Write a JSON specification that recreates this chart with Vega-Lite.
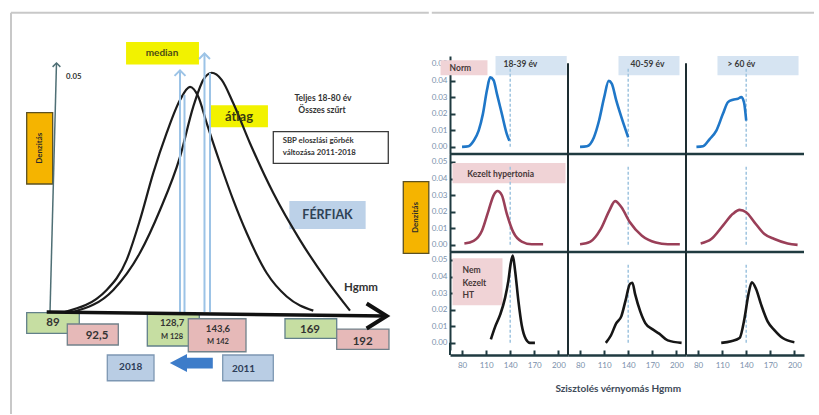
{
"$schema": "https://vega.github.io/schema/vega-lite/v6.json",
"padding": 0,
"background": "#ffffff",
"spacing": 0,
"resolve": {"scale": {"color": "independent", "stroke": "independent", "fill": "independent", "size": "independent"}},
"config": {"view": {"stroke": null}, "font": "Lato", "text": {"font": "Lato", "fontWeight": "bold"}},
"datasets": {
"boxes": [
{"cat":"green","x1":74.74,"x2":93.82,"y1":-0.00015,"y2":-0.00453},
{"cat":"green","x1":118.49,"x2":137.35,"y1":-0.00043,"y2":-0.00723},
{"cat":"green","x1":168.43,"x2":187.19,"y1":-0.00143,"y2":-0.0056},
{"cat":"pink","x1":89.47,"x2":107.97,"y1":-0.00255,"y2":-0.00702},
{"cat":"pink","x1":133.36,"x2":154.29,"y1":-0.00143,"y2":-0.00845},
{"cat":"pink","x1":187.19,"x2":206.15,"y1":-0.00362,"y2":-0.00794},
{"cat":"blue","x1":103.98,"x2":120.92,"y1":-0.00915,"y2":-0.01462},
{"cat":"blue","x1":145.84,"x2":164.19,"y1":-0.00915,"y2":-0.01462},
{"cat":"yellow","x1":111.02,"x2":136.99,"y1":0.0573,"y2":0.05277},
{"cat":"yellow","x1":141.48,"x2":162.01,"y1":0.04383,"y2":0.03943},
{"cat":"white","x1":164.19,"x2":205.9,"y1":0.03836,"y2":0.03164},
{"cat":"lblue","x1":170.25,"x2":197.45,"y1":0.02347,"y2":0.01781},
{"cat":"orange","x1":74.74,"x2":84.17,"y1":0.0424,"y2":0.02723},
{"cat":"orange","x1":211.34,"x2":220.6,"y1":0.02772,"y2":0.01249}
],
"bell": [
{"year":"2018","sbp":88.5,"dens":0},{"year":"2018","sbp":103.76,"dens":0.0047},{"year":"2018","sbp":111.0,"dens":0.0111},{"year":"2018","sbp":115.84,"dens":0.0196},{"year":"2018","sbp":120.67,"dens":0.0296},{"year":"2018","sbp":125.52,"dens":0.0381},{"year":"2018","sbp":130.35,"dens":0.0451},{"year":"2018","sbp":133.98,"dens":0.0479},{"year":"2018","sbp":136.99,"dens":0.0458},{"year":"2018","sbp":140.03,"dens":0.0402},{"year":"2018","sbp":144.86,"dens":0.0317},{"year":"2018","sbp":149.68,"dens":0.0238},{"year":"2018","sbp":154.54,"dens":0.0168},{"year":"2018","sbp":161.79,"dens":0.0083},{"year":"2018","sbp":169.05,"dens":0.0033},{"year":"2018","sbp":178.7,"dens":0.0003},
{"year":"2011","sbp":91.5,"dens":0},{"year":"2011","sbp":106.16,"dens":0.0047},{"year":"2011","sbp":115.84,"dens":0.0126},{"year":"2011","sbp":123.1,"dens":0.0217},{"year":"2011","sbp":130.35,"dens":0.033},{"year":"2011","sbp":135.17,"dens":0.0437},{"year":"2011","sbp":138.8,"dens":0.0494},{"year":"2011","sbp":141.85,"dens":0.0509},{"year":"2011","sbp":145.47,"dens":0.0494},{"year":"2011","sbp":149.68,"dens":0.0444},{"year":"2011","sbp":155.74,"dens":0.0359},{"year":"2011","sbp":164.19,"dens":0.0253},{"year":"2011","sbp":173.88,"dens":0.0153},{"year":"2011","sbp":183.56,"dens":0.0068},{"year":"2011","sbp":192.01,"dens":0.0003}
],
"segs": [
{"cat":"frame","x":69.05,"y":0.06368,"x2":69.05,"y2":-0.0217},
{"cat":"frame","x":69.05,"y":0.06368,"x2":220.6,"y2":0.06368},
{"cat":"yaxis","x":83.2,"y":0,"x2":85.55,"y2":0.05298},
{"cat":"blue","x":130.35,"y":0,"x2":130.35,"y2":0.0512},
{"cat":"blue","x":131.98,"y":0,"x2":131.98,"y2":0.0462},
{"cat":"blue","x":139.23,"y":0,"x2":139.23,"y2":0.0548},
{"cat":"blue","x":141.23,"y":0,"x2":141.23,"y2":0.0509},
{"cat":"xaxis","x":82.0,"y":0,"x2":205.07,"y2":-0.00085}
],
"heads": [
{"cat":"yaxis","x":85.55,"y":0.05298},
{"cat":"blue","x":130.35,"y":0.0514},
{"cat":"blue","x":139.23,"y":0.055},
{"cat":"xaxis","x":205.3,"y":-0.00085},
{"cat":"big","x":134.45,"y":-0.01085}
],
"texts": [
{"g":"c","t":"89","role":"big","x":84.28,"y":-0.00234},
{"g":"c","t":"92,5","role":"big","x":100.24,"y":-0.00511},
{"g":"c","t":"169","role":"big","x":177.5,"y":-0.00383},
{"g":"c","t":"192","role":"big","x":196.62,"y":-0.00628},
{"g":"c","t":"128,7","role":"mid","x":127.45,"y":-0.0024},
{"g":"c","t":"143,6","role":"mid","x":144.13,"y":-0.00362},
{"g":"c","t":"M 128","role":"small","x":127.45,"y":-0.00538},
{"g":"c","t":"M 142","role":"small","x":144.13,"y":-0.00632},
{"g":"c","t":"2018","role":"year","x":112.47,"y":-0.01177},
{"g":"c","t":"2011","role":"year","x":153.38,"y":-0.01213},
{"g":"c","t":"median","role":"median","x":123.82,"y":0.055},
{"g":"c","t":"átlag","role":"atlag","x":151.75,"y":0.04149},
{"g":"c","t":"Teljes 18-80 év","role":"note","x":182.22,"y":0.04553},
{"g":"c","t":"Összes szűrt","role":"note","x":181.85,"y":0.04298},
{"g":"c","t":"FÉRFIAK","role":"ferfi","x":183.85,"y":0.02064},
{"g":"c","t":"Hgmm","role":"hgmm","x":196.0,"y":0.00511},
{"g":"l","t":"SBP eloszlási görbék","x":167.6,"y":0.03638},
{"g":"l","t":"változása 2011-2018","x":167.6,"y":0.03383},
{"g":"l","t":"0.05","x":89.0,"y":0.05},
{"g":"r","t":"Denzitás","x":79.46,"y":0.03483},
{"g":"r","t":"Denzitás","x":215.97,"y":0.02011}
],
"right": [
{"kind":"cell","grp":"Norm","age":"18-39 év"},{"kind":"cell","grp":"Norm","age":"40-59 év"},{"kind":"cell","grp":"Norm","age":"> 60 év"},
{"kind":"cell","grp":"Kezelt hypertonia","age":"18-39 év"},{"kind":"cell","grp":"Kezelt hypertonia","age":"40-59 év"},{"kind":"cell","grp":"Kezelt hypertonia","age":"> 60 év"},
{"kind":"cell","grp":"Nem Kezelt HT","age":"18-39 év"},{"kind":"cell","grp":"Nem Kezelt HT","age":"40-59 év"},{"kind":"cell","grp":"Nem Kezelt HT","age":"> 60 év"},
{"kind":"colhead","grp":"Norm","age":"18-39 év","label":"18-39 év","x1":121.7,"x2":210.4,"tx":131.6},
{"kind":"colhead","grp":"Norm","age":"40-59 év","label":"40-59 év","x1":127.9,"x2":203.9,"tx":142.9},
{"kind":"colhead","grp":"Norm","age":"> 60 év","label":"> 60 év","x1":104.2,"x2":205.2,"tx":116.7},
{"kind":"rowlab","grp":"Norm","age":"18-39 év","label":"Norm","x1":53.2,"x2":111.7,"y1":0.0432,"y2":0.0523,"tx":64.5,"ty":0.0476},
{"kind":"rowlab","grp":"Kezelt hypertonia","age":"18-39 év","label":"Kezelt hypertonia","x1":68.1,"x2":208.9,"y1":0.0372,"y2":0.0493,"tx":86.5,"ty":0.0429},
{"kind":"rowlab","grp":"Nem Kezelt HT","age":"18-39 év","label":"Nem\nKezelt\nHT","x1":68.1,"x2":130.4,"y1":0.0227,"y2":0.0511,"tx":80.6,"ty":0.0438},
{"kind":"curve","grp":"Norm","age":"18-39 év","sbp":80,"dens":0},{"kind":"curve","grp":"Norm","age":"18-39 év","sbp":88,"dens":0.0004},{"kind":"curve","grp":"Norm","age":"18-39 év","sbp":94.5,"dens":0.0037},{"kind":"curve","grp":"Norm","age":"18-39 év","sbp":100.7,"dens":0.0098},{"kind":"curve","grp":"Norm","age":"18-39 év","sbp":106,"dens":0.0199},{"kind":"curve","grp":"Norm","age":"18-39 év","sbp":111,"dens":0.0341},{"kind":"curve","grp":"Norm","age":"18-39 év","sbp":115,"dens":0.0419},{"kind":"curve","grp":"Norm","age":"18-39 év","sbp":119.3,"dens":0.0402},{"kind":"curve","grp":"Norm","age":"18-39 év","sbp":123.4,"dens":0.0321},{"kind":"curve","grp":"Norm","age":"18-39 év","sbp":129.6,"dens":0.0199},{"kind":"curve","grp":"Norm","age":"18-39 év","sbp":135.8,"dens":0.0077},{"kind":"curve","grp":"Norm","age":"18-39 év","sbp":139,"dens":0.0037},
{"kind":"curve","grp":"Norm","age":"40-59 év","sbp":80,"dens":0},{"kind":"curve","grp":"Norm","age":"40-59 év","sbp":88.6,"dens":0.0004},{"kind":"curve","grp":"Norm","age":"40-59 év","sbp":97.2,"dens":0.0057},{"kind":"curve","grp":"Norm","age":"40-59 év","sbp":103.7,"dens":0.0159},{"kind":"curve","grp":"Norm","age":"40-59 év","sbp":110.1,"dens":0.03},{"kind":"curve","grp":"Norm","age":"40-59 év","sbp":115.7,"dens":0.0398},{"kind":"curve","grp":"Norm","age":"40-59 év","sbp":119.5,"dens":0.0382},{"kind":"curve","grp":"Norm","age":"40-59 év","sbp":125.1,"dens":0.028},{"kind":"curve","grp":"Norm","age":"40-59 év","sbp":131.5,"dens":0.0179},{"kind":"curve","grp":"Norm","age":"40-59 év","sbp":140,"dens":0.0057},
{"kind":"curve","grp":"Norm","age":"> 60 év","sbp":78,"dens":0},{"kind":"curve","grp":"Norm","age":"> 60 év","sbp":86.2,"dens":0.0004},{"kind":"curve","grp":"Norm","age":"> 60 év","sbp":94.5,"dens":0.0047},{"kind":"curve","grp":"Norm","age":"> 60 év","sbp":102.8,"dens":0.0098},{"kind":"curve","grp":"Norm","age":"> 60 év","sbp":111,"dens":0.0199},{"kind":"curve","grp":"Norm","age":"> 60 év","sbp":117.3,"dens":0.027},{"kind":"curve","grp":"Norm","age":"> 60 év","sbp":123.5,"dens":0.0284},{"kind":"curve","grp":"Norm","age":"> 60 év","sbp":129.7,"dens":0.029},{"kind":"curve","grp":"Norm","age":"> 60 év","sbp":133.8,"dens":0.03},{"kind":"curve","grp":"Norm","age":"> 60 év","sbp":137.2,"dens":0.027},{"kind":"curve","grp":"Norm","age":"> 60 év","sbp":140,"dens":0.0159},
{"kind":"curve","grp":"Kezelt hypertonia","age":"18-39 év","sbp":82.9,"dens":0.0008},{"kind":"curve","grp":"Kezelt hypertonia","age":"18-39 év","sbp":94.5,"dens":0.0024},{"kind":"curve","grp":"Kezelt hypertonia","age":"18-39 év","sbp":104.8,"dens":0.0085},{"kind":"curve","grp":"Kezelt hypertonia","age":"18-39 év","sbp":113,"dens":0.0207},{"kind":"curve","grp":"Kezelt hypertonia","age":"18-39 év","sbp":119.3,"dens":0.0299},{"kind":"curve","grp":"Kezelt hypertonia","age":"18-39 év","sbp":124.2,"dens":0.0325},{"kind":"curve","grp":"Kezelt hypertonia","age":"18-39 év","sbp":129.6,"dens":0.0299},{"kind":"curve","grp":"Kezelt hypertonia","age":"18-39 év","sbp":135.8,"dens":0.0187},{"kind":"curve","grp":"Kezelt hypertonia","age":"18-39 év","sbp":144,"dens":0.0075},{"kind":"curve","grp":"Kezelt hypertonia","age":"18-39 év","sbp":154.3,"dens":0.002},{"kind":"curve","grp":"Kezelt hypertonia","age":"18-39 év","sbp":166.7,"dens":0.0004},{"kind":"curve","grp":"Kezelt hypertonia","age":"18-39 év","sbp":181,"dens":0.0004},
{"kind":"curve","grp":"Kezelt hypertonia","age":"40-59 év","sbp":80,"dens":0.0004},{"kind":"curve","grp":"Kezelt hypertonia","age":"40-59 év","sbp":92.9,"dens":0.002},{"kind":"curve","grp":"Kezelt hypertonia","age":"40-59 év","sbp":105.7,"dens":0.0095},{"kind":"curve","grp":"Kezelt hypertonia","age":"40-59 év","sbp":116.5,"dens":0.0207},{"kind":"curve","grp":"Kezelt hypertonia","age":"40-59 év","sbp":123.7,"dens":0.0264},{"kind":"curve","grp":"Kezelt hypertonia","age":"40-59 év","sbp":131.4,"dens":0.0228},{"kind":"curve","grp":"Kezelt hypertonia","age":"40-59 év","sbp":142.1,"dens":0.0136},{"kind":"curve","grp":"Kezelt hypertonia","age":"40-59 év","sbp":157.1,"dens":0.0055},{"kind":"curve","grp":"Kezelt hypertonia","age":"40-59 év","sbp":174.3,"dens":0.0014},{"kind":"curve","grp":"Kezelt hypertonia","age":"40-59 év","sbp":189.3,"dens":0.0004},{"kind":"curve","grp":"Kezelt hypertonia","age":"40-59 év","sbp":204.3,"dens":0.0004},
{"kind":"curve","grp":"Kezelt hypertonia","age":"> 60 év","sbp":83.3,"dens":0.0008},{"kind":"curve","grp":"Kezelt hypertonia","age":"> 60 év","sbp":96.5,"dens":0.0035},{"kind":"curve","grp":"Kezelt hypertonia","age":"> 60 év","sbp":111,"dens":0.0116},{"kind":"curve","grp":"Kezelt hypertonia","age":"> 60 év","sbp":123.4,"dens":0.0187},{"kind":"curve","grp":"Kezelt hypertonia","age":"> 60 év","sbp":131.7,"dens":0.0211},{"kind":"curve","grp":"Kezelt hypertonia","age":"> 60 év","sbp":139.9,"dens":0.0197},{"kind":"curve","grp":"Kezelt hypertonia","age":"> 60 év","sbp":150.3,"dens":0.0136},{"kind":"curve","grp":"Kezelt hypertonia","age":"> 60 év","sbp":162.7,"dens":0.0065},{"kind":"curve","grp":"Kezelt hypertonia","age":"> 60 év","sbp":175.1,"dens":0.0035},{"kind":"curve","grp":"Kezelt hypertonia","age":"> 60 év","sbp":191.6,"dens":0.0008},{"kind":"curve","grp":"Kezelt hypertonia","age":"> 60 év","sbp":204,"dens":0},
{"kind":"curve","grp":"Nem Kezelt HT","age":"18-39 év","sbp":115.9,"dens":0.0021},{"kind":"curve","grp":"Nem Kezelt HT","age":"18-39 év","sbp":121.3,"dens":0.0098},{"kind":"curve","grp":"Nem Kezelt HT","age":"18-39 év","sbp":127.5,"dens":0.017},{"kind":"curve","grp":"Nem Kezelt HT","age":"18-39 év","sbp":133.7,"dens":0.0273},{"kind":"curve","grp":"Nem Kezelt HT","age":"18-39 év","sbp":137.8,"dens":0.0377},{"kind":"curve","grp":"Nem Kezelt HT","age":"18-39 év","sbp":140.7,"dens":0.048},{"kind":"curve","grp":"Nem Kezelt HT","age":"18-39 év","sbp":143.2,"dens":0.0526},{"kind":"curve","grp":"Nem Kezelt HT","age":"18-39 év","sbp":146,"dens":0.0439},{"kind":"curve","grp":"Nem Kezelt HT","age":"18-39 év","sbp":150.2,"dens":0.0253},{"kind":"curve","grp":"Nem Kezelt HT","age":"18-39 év","sbp":154.3,"dens":0.0108},{"kind":"curve","grp":"Nem Kezelt HT","age":"18-39 év","sbp":159.7,"dens":0.0021},{"kind":"curve","grp":"Nem Kezelt HT","age":"18-39 év","sbp":164.6,"dens":0.0},{"kind":"curve","grp":"Nem Kezelt HT","age":"18-39 év","sbp":170.8,"dens":0.0},
{"kind":"curve","grp":"Nem Kezelt HT","age":"40-59 év","sbp":112.1,"dens":0},{"kind":"curve","grp":"Nem Kezelt HT","age":"40-59 év","sbp":118.6,"dens":0.0046},{"kind":"curve","grp":"Nem Kezelt HT","age":"40-59 év","sbp":125,"dens":0.0118},{"kind":"curve","grp":"Nem Kezelt HT","age":"40-59 év","sbp":131.4,"dens":0.016},{"kind":"curve","grp":"Nem Kezelt HT","age":"40-59 év","sbp":136.6,"dens":0.0253},{"kind":"curve","grp":"Nem Kezelt HT","age":"40-59 év","sbp":142.2,"dens":0.0356},{"kind":"curve","grp":"Nem Kezelt HT","age":"40-59 év","sbp":145.2,"dens":0.0363},{"kind":"curve","grp":"Nem Kezelt HT","age":"40-59 év","sbp":148.6,"dens":0.0294},{"kind":"curve","grp":"Nem Kezelt HT","age":"40-59 év","sbp":155,"dens":0.019},{"kind":"curve","grp":"Nem Kezelt HT","age":"40-59 év","sbp":161.5,"dens":0.0118},{"kind":"curve","grp":"Nem Kezelt HT","age":"40-59 év","sbp":170,"dens":0.0083},{"kind":"curve","grp":"Nem Kezelt HT","age":"40-59 év","sbp":178.6,"dens":0.0056},{"kind":"curve","grp":"Nem Kezelt HT","age":"40-59 év","sbp":189.3,"dens":0.0015},{"kind":"curve","grp":"Nem Kezelt HT","age":"40-59 év","sbp":206.5,"dens":0},
{"kind":"curve","grp":"Nem Kezelt HT","age":"> 60 év","sbp":108.9,"dens":0},{"kind":"curve","grp":"Nem Kezelt HT","age":"> 60 év","sbp":121.3,"dens":0.001},{"kind":"curve","grp":"Nem Kezelt HT","age":"> 60 év","sbp":131.7,"dens":0.0029},{"kind":"curve","grp":"Nem Kezelt HT","age":"> 60 év","sbp":137.9,"dens":0.0149},{"kind":"curve","grp":"Nem Kezelt HT","age":"> 60 év","sbp":142.8,"dens":0.0294},{"kind":"curve","grp":"Nem Kezelt HT","age":"> 60 év","sbp":147,"dens":0.0366},{"kind":"curve","grp":"Nem Kezelt HT","age":"> 60 év","sbp":152.3,"dens":0.0325},{"kind":"curve","grp":"Nem Kezelt HT","age":"> 60 év","sbp":158.5,"dens":0.0232},{"kind":"curve","grp":"Nem Kezelt HT","age":"> 60 év","sbp":166.8,"dens":0.0128},{"kind":"curve","grp":"Nem Kezelt HT","age":"> 60 év","sbp":175.1,"dens":0.0077},{"kind":"curve","grp":"Nem Kezelt HT","age":"> 60 év","sbp":185.4,"dens":0.0029},{"kind":"curve","grp":"Nem Kezelt HT","age":"> 60 év","sbp":200,"dens":0.0004}
]
},
"hconcat": [
{
"width": 430, "height": 415,
"layer": [
{"data":{"name":"boxes"},"mark":{"type":"rect","strokeWidth":1.3},
 "encoding":{
  "x":{"field":"x1","type":"quantitative","scale":{"domain":[65.06,221.03],"nice":false,"zero":false},"axis":null},
  "x2":{"field":"x2"},
  "y":{"field":"y1","type":"quantitative","scale":{"domain":[-0.02191,0.06638],"nice":false,"zero":false},"axis":null},
  "y2":{"field":"y2"},
  "fill":{"field":"cat","type":"nominal","scale":{"domain":["green","pink","blue","yellow","white","lblue","orange"],"range":["#c6dea2","#e6b9b8","#b9cde4","#f2f200","#ffffff","#bcd1e8","#f5b400"]},"legend":null},
  "stroke":{"field":"cat","type":"nominal","scale":{"domain":["green","pink","blue","yellow","white","lblue","orange"],"range":["#62808a","#71818a","#7d97b3","#f2f200","#3a3a3a","#bcd1e8","#5c5122"]},"legend":null}
 }},
{"data":{"name":"bell"},"mark":{"type":"line","color":"#1c1c1c","strokeWidth":2.2,"interpolate":"monotone"},
 "encoding":{"x":{"field":"sbp","type":"quantitative","scale":{"domain":[65.06,221.03],"nice":false,"zero":false},"axis":null},
  "y":{"field":"dens","type":"quantitative","scale":{"domain":[-0.02191,0.06638],"nice":false,"zero":false},"axis":null},
  "detail":{"field":"year"}}},
{"data":{"name":"segs"},"transform":[{"filter":"datum.cat==='frame'"}],"mark":{"type":"rule","color":"#c8c8c8","strokeWidth":2},
 "encoding":{"x":{"field":"x","type":"quantitative","axis":null},"x2":{"field":"x2"},"y":{"field":"y","type":"quantitative","axis":null},"y2":{"field":"y2"}}},
{"data":{"name":"segs"},"transform":[{"filter":"datum.cat==='yaxis'"}],"mark":{"type":"rule","color":"#4f6f75","strokeWidth":1.5},
 "encoding":{"x":{"field":"x","type":"quantitative","axis":null},"x2":{"field":"x2"},"y":{"field":"y","type":"quantitative","axis":null},"y2":{"field":"y2"}}},
{"data":{"name":"segs"},"transform":[{"filter":"datum.cat==='blue'"}],"mark":{"type":"rule","color":"#9cc3e6","strokeWidth":2},
 "encoding":{"x":{"field":"x","type":"quantitative","axis":null},"x2":{"field":"x2"},"y":{"field":"y","type":"quantitative","axis":null},"y2":{"field":"y2"}}},
{"data":{"name":"segs"},"transform":[{"filter":"datum.cat==='xaxis'"}],"mark":{"type":"rule","color":"#111111","strokeWidth":3.5},
 "encoding":{"x":{"field":"x","type":"quantitative","axis":null},"x2":{"field":"x2"},"y":{"field":"y","type":"quantitative","axis":null},"y2":{"field":"y2"}}},
{"data":{"name":"heads"},"transform":[{"filter":"datum.cat==='yaxis'"}],"mark":{"type":"point","shape":"M -1 1 L 0 0 L 1 1","filled":false,"color":"#4f6f75","strokeWidth":1.5,"size":60,"opacity":1},
 "encoding":{"x":{"field":"x","type":"quantitative","axis":null},"y":{"field":"y","type":"quantitative","axis":null}}},
{"data":{"name":"heads"},"transform":[{"filter":"datum.cat==='blue'"}],"mark":{"type":"point","shape":"M -1 1 L 0 0 L 1 1","filled":false,"color":"#9cc3e6","strokeWidth":2,"size":120,"opacity":1},
 "encoding":{"x":{"field":"x","type":"quantitative","axis":null},"y":{"field":"y","type":"quantitative","axis":null}}},
{"data":{"name":"heads"},"transform":[{"filter":"datum.cat==='xaxis'"}],"mark":{"type":"point","shape":"M -1.6 -1 L 0 0 L -1.6 1","filled":false,"color":"#111111","strokeWidth":4,"size":625,"opacity":1},
 "encoding":{"x":{"field":"x","type":"quantitative","axis":null},"y":{"field":"y","type":"quantitative","axis":null}}},
{"data":{"name":"heads"},"transform":[{"filter":"datum.cat==='big'"}],"mark":{"type":"point","shape":"M -1 0 L -0.2 -0.42 L -0.2 -0.25 L 1 -0.25 L 1 0.25 L -0.2 0.25 L -0.2 0.42 Z","filled":true,"color":"#3d7cc9","strokeWidth":0,"size":1849,"opacity":1},
 "encoding":{"x":{"field":"x","type":"quantitative","axis":null},"y":{"field":"y","type":"quantitative","axis":null}}},
{"data":{"name":"texts"},"transform":[{"filter":"datum.g==='c'"}],"mark":{"type":"text","align":"center","baseline":"middle"},
 "encoding":{"x":{"field":"x","type":"quantitative","axis":null},"y":{"field":"y","type":"quantitative","axis":null},"text":{"field":"t"},
  "size":{"field":"role","type":"ordinal","scale":{"type":"ordinal","domain":["big","mid","small","year","median","atlag","note","ferfi","hgmm"],"range":[11.5,9.5,7.5,10,10,13,8.5,12.5,11.5]},"legend":null},
  "color":{"field":"role","type":"nominal","scale":{"domain":["big","mid","small","year","median","atlag","note","ferfi","hgmm"],"range":["#333333","#333333","#333333","#2e3d58","#4d4d16","#3b3b10","#333333","#2f4255","#333333"]},"legend":null}}},
{"data":{"name":"texts"},"transform":[{"filter":"datum.g==='l'"}],"mark":{"type":"text","align":"left","baseline":"middle","fontSize":7.8,"color":"#333333"},
 "encoding":{"x":{"field":"x","type":"quantitative","axis":null},"y":{"field":"y","type":"quantitative","axis":null},"text":{"field":"t"}}},
{"data":{"name":"texts"},"transform":[{"filter":"datum.g==='r'"}],"mark":{"type":"text","align":"center","baseline":"middle","fontSize":8,"angle":270,"color":"#2a2a2a"},
 "encoding":{"x":{"field":"x","type":"quantitative","axis":null},"y":{"field":"y","type":"quantitative","axis":null},"text":{"field":"t"}}}
]
},
{
"spacing": 0,
"resolve": {"scale": {"color": "independent"}},
"vconcat": [
{"width": 364, "height": 56, "data": {"values": [{"a": 1}]},
 "mark": {"type": "rule", "color": "#c8c8c8", "strokeWidth": 2},
 "encoding": {"x": {"datum": -0.05, "type": "quantitative", "scale": {"domain": [0, 1], "nice": false, "zero": false}, "axis": null}, "x2": {"datum": 1}, "y": {"datum": 12.7, "type": "quantitative", "scale": {"domain": [56, 0], "nice": false, "zero": false}, "axis": null}}},
{
"data": {"name": "right"},
"bounds": "flush",
"spacing": {"row": 0, "column": 0},
"title": {"text": "Szisztolés vérnyomás Hgmm", "orient": "bottom", "anchor": "middle", "fontSize": 10, "fontWeight": "bold", "color": "#3e4a58", "font": "Lato", "offset": 15},
"facet": {
 "row": {"field": "grp", "type": "nominal", "sort": ["Norm", "Kezelt hypertonia", "Nem Kezelt HT"], "header": {"labels": false, "title": null}},
 "column": {"field": "age", "type": "nominal", "sort": ["18-39 év", "40-59 év", "> 60 év"], "header": {"labels": false, "title": null}}
},
"spec": {
 "width": 118, "height": 98,
 "layer": [
  {"transform": [{"filter": "datum.kind==='colhead'"}], "mark": {"type": "rect", "fill": "#d6e4f2"},
   "encoding": {"x": {"field": "x1", "type": "quantitative", "scale": {"domain": [65, 212], "nice": false, "zero": false}, "axis": {"values": [80, 110, 140, 170, 200], "tickCount": 20, "title": null, "grid": false, "labelOverlap": false, "domainColor": "#1f3a40", "domainWidth": 2.5, "tickColor": "#1f3a40", "tickWidth": 2, "tickSize": -5, "labelColor": "#7a90ab", "labelFontSize": 8, "labelPadding": 11, "offset": 5}},
    "x2": {"field": "x2"},
    "y": {"datum": 0.0432, "type": "quantitative", "scale": {"domain": [-0.0043, 0.0548], "nice": false, "zero": false}, "axis": {"values": [0, 0.01, 0.02, 0.03, 0.04, 0.05], "tickCount": 20, "format": ".2f", "title": null, "grid": false, "labelOverlap": false, "domainColor": "#1f3a40", "domainWidth": 2, "tickColor": "#1f3a40", "tickWidth": 2, "tickSize": -5, "labelColor": "#7a90ab", "labelFontSize": 8, "labelPadding": 8}},
    "y2": {"datum": 0.0548}}},
  {"transform": [{"filter": "datum.kind==='rowlab'"}], "mark": {"type": "rect", "fill": "#f0d3d6"},
   "encoding": {"x": {"field": "x1", "type": "quantitative", "axis": {"values": [80, 110, 140, 170, 200], "tickCount": 20, "title": null, "grid": false, "labelOverlap": false, "domainColor": "#1f3a40", "domainWidth": 2.5, "tickColor": "#1f3a40", "tickWidth": 2, "tickSize": -5, "labelColor": "#7a90ab", "labelFontSize": 8, "labelPadding": 11, "offset": 5}}, "x2": {"field": "x2"}, "y": {"field": "y1", "type": "quantitative", "axis": {"values": [0, 0.01, 0.02, 0.03, 0.04, 0.05], "tickCount": 20, "format": ".2f", "title": null, "grid": false, "labelOverlap": false, "domainColor": "#1f3a40", "domainWidth": 2, "tickColor": "#1f3a40", "tickWidth": 2, "tickSize": -5, "labelColor": "#7a90ab", "labelFontSize": 8, "labelPadding": 8}}, "y2": {"field": "y2"}}},
  {"transform": [{"filter": "datum.kind==='cell'"}], "mark": {"type": "rule", "color": "#9ec4df", "strokeWidth": 1.5, "strokeDash": [3, 2]},
   "encoding": {"x": {"datum": 140}, "y": {"datum": 0}, "y2": {"datum": 0.048}}},
  {"transform": [{"filter": "datum.kind==='cell' && datum.grp!=='Nem Kezelt HT'"}], "mark": {"type": "rule", "color": "#203b40", "strokeWidth": 2.5},
   "encoding": {"x": {"datum": 65}, "x2": {"datum": 212}, "y": {"datum": -0.0043}}},
  {"transform": [{"filter": "datum.kind==='cell' && datum.grp==='Norm' && datum.age!=='> 60 év'"}], "mark": {"type": "rule", "color": "#1d2d31", "strokeWidth": 2},
   "encoding": {"x": {"datum": 212}, "y": {"datum": -0.0043}, "y2": {"datum": 0.0505}}},
  {"transform": [{"filter": "datum.kind==='cell' && datum.grp==='Kezelt hypertonia' && datum.age!=='> 60 év'"}], "mark": {"type": "rule", "color": "#1d2d31", "strokeWidth": 2},
   "encoding": {"x": {"datum": 212}, "y": {"datum": -0.0043}, "y2": {"datum": 0.0548}}},
  {"transform": [{"filter": "datum.kind==='cell' && datum.grp==='Nem Kezelt HT' && datum.age!=='> 60 év'"}], "mark": {"type": "rule", "color": "#1d2d31", "strokeWidth": 2},
   "encoding": {"x": {"datum": 212}, "y": {"datum": -0.0073}, "y2": {"datum": 0.0548}}},
  {"transform": [{"filter": "datum.kind==='cell' && datum.grp==='Nem Kezelt HT' && datum.age==='18-39 év'"}], "mark": {"type": "rule", "color": "#1f3a40", "strokeWidth": 2},
   "encoding": {"x": {"datum": 65}, "y": {"datum": -0.0073}, "y2": {"datum": 0}}},
  {"transform": [{"filter": "datum.kind==='curve'"}], "mark": {"type": "line", "strokeWidth": 2.6, "interpolate": "monotone"},
   "encoding": {"x": {"field": "sbp", "type": "quantitative", "axis": {"values": [80, 110, 140, 170, 200], "tickCount": 20, "title": null, "grid": false, "labelOverlap": false, "domainColor": "#1f3a40", "domainWidth": 2.5, "tickColor": "#1f3a40", "tickWidth": 2, "tickSize": -5, "labelColor": "#7a90ab", "labelFontSize": 8, "labelPadding": 11, "offset": 5}}, "y": {"field": "dens", "type": "quantitative", "axis": {"values": [0, 0.01, 0.02, 0.03, 0.04, 0.05], "tickCount": 20, "format": ".2f", "title": null, "grid": false, "labelOverlap": false, "domainColor": "#1f3a40", "domainWidth": 2, "tickColor": "#1f3a40", "tickWidth": 2, "tickSize": -5, "labelColor": "#7a90ab", "labelFontSize": 8, "labelPadding": 8}},
    "color": {"field": "grp", "type": "nominal", "scale": {"domain": ["Norm", "Kezelt hypertonia", "Nem Kezelt HT"], "range": ["#1f77c8", "#9a3f58", "#161616"]}, "legend": null}}},
  {"transform": [{"filter": "datum.kind==='rowlab'"}], "mark": {"type": "text", "align": "left", "baseline": "middle", "fontSize": 8.5, "lineBreak": "\n", "lineHeight": 12.5, "color": "#473838"},
   "encoding": {"x": {"field": "tx", "type": "quantitative", "axis": {"values": [80, 110, 140, 170, 200], "tickCount": 20, "title": null, "grid": false, "labelOverlap": false, "domainColor": "#1f3a40", "domainWidth": 2.5, "tickColor": "#1f3a40", "tickWidth": 2, "tickSize": -5, "labelColor": "#7a90ab", "labelFontSize": 8, "labelPadding": 11, "offset": 5}}, "y": {"field": "ty", "type": "quantitative", "axis": {"values": [0, 0.01, 0.02, 0.03, 0.04, 0.05], "tickCount": 20, "format": ".2f", "title": null, "grid": false, "labelOverlap": false, "domainColor": "#1f3a40", "domainWidth": 2, "tickColor": "#1f3a40", "tickWidth": 2, "tickSize": -5, "labelColor": "#7a90ab", "labelFontSize": 8, "labelPadding": 8}}, "text": {"field": "label"}}},
  {"transform": [{"filter": "datum.kind==='colhead'"}], "mark": {"type": "text", "align": "left", "baseline": "middle", "fontSize": 8.5, "color": "#3a3a3a"},
   "encoding": {"x": {"field": "tx", "type": "quantitative", "axis": {"values": [80, 110, 140, 170, 200], "tickCount": 20, "title": null, "grid": false, "labelOverlap": false, "domainColor": "#1f3a40", "domainWidth": 2.5, "tickColor": "#1f3a40", "tickWidth": 2, "tickSize": -5, "labelColor": "#7a90ab", "labelFontSize": 8, "labelPadding": 11, "offset": 5}}, "y": {"datum": 0.0499}, "text": {"field": "label"}}}
 ]
}
}
]
}
]
}
